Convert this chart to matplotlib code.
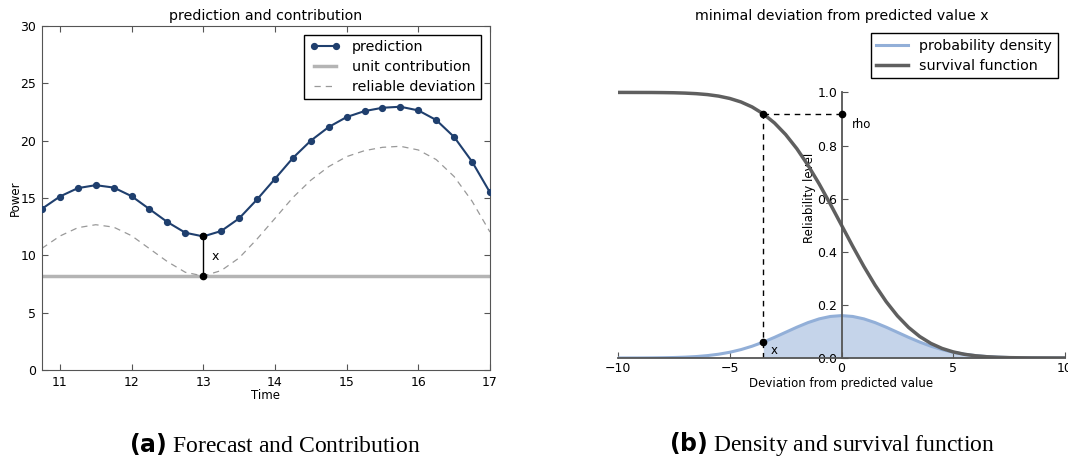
import matplotlib
matplotlib.use("Agg")
import matplotlib.pyplot as plt

# panel (a): forecast and contribution
time = [10.75, 11.0, 11.25, 11.5, 11.75, 12.0, 12.25, 12.5, 12.75, 13.0, 13.25,
        13.5, 13.75, 14.0, 14.25, 14.5, 14.75, 15.0, 15.25, 15.5, 15.75, 16.0,
        16.25, 16.5, 16.75, 17.0]
prediction = [14.06, 15.13, 15.86, 16.12, 15.91, 15.16, 14.03, 12.90, 11.97, 11.65,
              12.12, 13.22, 14.87, 16.67, 18.49, 20.00, 21.19, 22.06, 22.58, 22.87,
              22.96, 22.64, 21.80, 20.32, 18.17, 15.48]
unit_contribution = 8.2
x_time = 13.0
deviation = 3.45  # prediction - reliable deviation
reliable = [p - deviation for p in prediction]

# panel (b): density and survival function
dev = [-10.0, -9.5, -9.0, -8.5, -8.0, -7.5, -7.0, -6.5, -6.0, -5.5, -5.0, -4.5, -4.0,
       -3.5, -3.0, -2.5, -2.0, -1.5, -1.0, -0.5, 0.0, 0.5, 1.0, 1.5, 2.0, 2.5, 3.0,
       3.5, 4.0, 4.5, 5.0, 5.5, 6.0, 6.5, 7.0, 7.5, 8.0, 8.5, 9.0, 9.5, 10.0]
density = [0.0000, 0.0001, 0.0002, 0.0005, 0.0010, 0.0018, 0.0032, 0.0054, 0.0090,
           0.0142, 0.0216, 0.0316, 0.0444, 0.0599, 0.0777, 0.0968, 0.1159, 0.1333,
           0.1473, 0.1564, 0.1596, 0.1564, 0.1473, 0.1333, 0.1159, 0.0968, 0.0777,
           0.0599, 0.0444, 0.0316, 0.0216, 0.0142, 0.0090, 0.0054, 0.0032, 0.0018,
           0.0010, 0.0005, 0.0002, 0.0001, 0.0000]
survival = [1.0000, 0.9999, 0.9998, 0.9997, 0.9993, 0.9987, 0.9974, 0.9953, 0.9918,
            0.9861, 0.9772, 0.9641, 0.9452, 0.9192, 0.8849, 0.8413, 0.7881, 0.7257,
            0.6554, 0.5793, 0.5000, 0.4207, 0.3446, 0.2743, 0.2119, 0.1587, 0.1151,
            0.0808, 0.0548, 0.0359, 0.0228, 0.0139, 0.0082, 0.0047, 0.0026, 0.0013,
            0.0007, 0.0003, 0.0002, 0.0001, 0.0000]
x_dev = -3.5
rho = 0.92
dens_at_x = 0.0599

SPINE = "#555555"

fig = plt.figure(figsize=(10.68, 4.63), dpi=100)

# ---- (a)
ax1 = fig.add_axes([0.0393, 0.2009, 0.4195, 0.7429])
ax1.plot(time, prediction, color="#1f3f6e", lw=1.5, marker="o", ms=4.2,
         label="prediction", zorder=4)
ax1.axhline(unit_contribution, color="#b4b4b4", lw=2.5, label="unit contribution")
ax1.plot(time, reliable, color="#999999", lw=0.9, ls=(0, (5, 4)),
         label="reliable deviation")
ax1.plot([x_time, x_time], [unit_contribution, prediction[9]], color="black",
         lw=1, marker="o", ms=4.5, zorder=5)
ax1.text(x_time + 0.12, (unit_contribution + prediction[9]) / 2, "x", fontsize=9,
         va="center")
ax1.set_xlim(10.75, 17)
ax1.set_ylim(0, 30)
ax1.set_xticks([11, 12, 13, 14, 15, 16, 17])
ax1.set_yticks([0, 5, 10, 15, 20, 25, 30])
ax1.tick_params(direction="in", top=True, right=True, labelsize=9, length=4,
                color=SPINE, pad=4)
for s in ax1.spines.values():
    s.set_color(SPINE)
ax1.set_title("prediction and contribution", fontsize=10.2, pad=4)
ax1.set_xlabel("Time", fontsize=8.5, labelpad=0)
ax1.set_ylabel("Power", fontsize=8.5, labelpad=-1)
leg1 = ax1.legend(loc="upper right", fontsize=10.3, numpoints=2, fancybox=False,
                  edgecolor="black", framealpha=1, borderaxespad=0.6,
                  handlelength=2.2, labelspacing=0.4)
leg1.get_frame().set_linewidth(1.0)

# ---- (b)
ax2 = fig.add_axes([0.5787, 0.2268, 0.4185, 0.7170])
ax2.fill_between([d for d in dev if d >= x_dev],
                 [v for d, v in zip(dev, density) if d >= x_dev],
                 color="#c5d4ea", lw=0)
ax2.plot(dev, density, color="#92afd8", lw=2.2, label="probability density")
ax2.plot(dev, survival, color="#5f5f5f", lw=2.5, label="survival function")
ax2.plot([x_dev, x_dev], [0, rho], color="black", lw=1, ls=(0, (4, 3.5)))
ax2.plot([x_dev, 0], [rho, rho], color="black", lw=1, ls=(0, (4, 3.5)))
ax2.plot([x_dev, 0, x_dev], [rho, rho, dens_at_x], "o", color="black", ms=4.5,
         zorder=5)
ax2.text(0.45, rho - 0.015, "rho", fontsize=8.5, va="top")
ax2.text(x_dev + 0.35, 0.005, "x", fontsize=8.5, va="bottom")
ax2.set_xlim(-10, 10)
ax2.set_ylim(0, 1.25)
ax2.spines["left"].set_position(("data", 0))
ax2.spines["bottom"].set_position(("data", 0))
ax2.spines["left"].set_bounds(0, 1)
ax2.spines["top"].set_visible(False)
ax2.spines["right"].set_visible(False)
for s in ("left", "bottom"):
    ax2.spines[s].set_color(SPINE)
    ax2.spines[s].set_linewidth(1.3)
ax2.set_xticks([-10, -5, 0, 5, 10])
ax2.set_xticklabels(["\u221210", "\u22125", "0", "5", "10"])
ax2.set_yticks([0.0, 0.2, 0.4, 0.6, 0.8, 1.0])
ax2.tick_params(direction="in", labelsize=9, length=4, color=SPINE, pad=3)
ax2.set_title("minimal deviation from predicted value x", fontsize=10.2, pad=4)
ax2.set_xlabel("Deviation from predicted value", fontsize=8.5, labelpad=1)
ax2.set_ylabel("Reliability level", fontsize=8.5)
ax2.yaxis.set_label_coords(0.443, 0.482)
leg2 = ax2.legend(loc="upper right", fontsize=10.3, fancybox=False,
                  edgecolor="black", framealpha=1, borderaxespad=0.5,
                  handlelength=2.2, labelspacing=0.4)
leg2.get_frame().set_linewidth(1.0)

# captions
cap = dict(fontsize=17, family="Liberation Serif", va="center", ha="center")
fig.text(0.257, 0.04, r"$\mathbf{(a)}$ Forecast and Contribution", **cap)
fig.text(0.779, 0.04, r"$\mathbf{(b)}$ Density and survival function", **cap)

fig.savefig("out.png", dpi=100)
